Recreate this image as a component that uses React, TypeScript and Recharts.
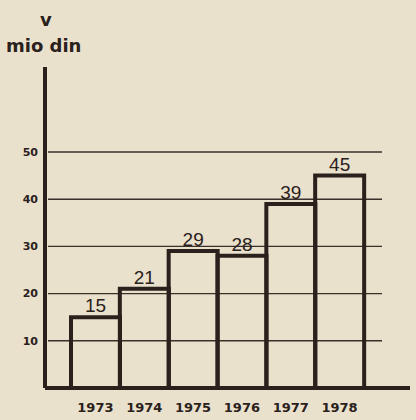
import React from "react";
import {
  BarChart,
  Bar,
  XAxis,
  YAxis,
  CartesianGrid,
  LabelList,
} from "recharts";

const years = ["1973", "1974", "1975", "1976", "1977", "1978"];
const values = [15, 21, 29, 28, 39, 45];
const yTicks = [10, 20, 30, 40, 50];

const data = years.map((year, i) => ({ year, value: values[i] }));

const INK = "#2a201c";
const PAPER = "#e9e1cc";

// grid lines stop short of the baseline's right end, like the print;
// skip the line recharts puts on the plot's top edge
const GridLine = (props: any) => {
  if (props.index === 0 && props.y1 <= 70) return <g key={props.key} />;
  return (
    <line
      key={props.key}
      x1={props.x1 + 3}
      x2={props.x2 - 28}
      y1={props.y1}
      y2={props.y2}
      stroke="#3a2f29"
      strokeWidth={1.4}
    />
  );
};

export default function App() {
  return (
    <div
      style={{
        position: "relative",
        width: 416,
        height: 420,
        background: PAPER,
        fontFamily: "'DejaVu Sans', sans-serif",
        color: INK,
        overflow: "hidden",
      }}
    >
      <style>{"body{margin:0}"}</style>
      <div
        style={{
          position: "absolute",
          left: 40,
          top: 9,
          fontSize: 18,
          fontWeight: "bold",
        }}
      >
        v
      </div>
      <div
        style={{
          position: "absolute",
          left: 6,
          top: 35,
          fontSize: 18,
          fontWeight: "bold",
        }}
      >
        mio din
      </div>
      <BarChart
        width={416}
        height={420}
        data={data}
        barCategoryGap={0}
        margin={{ top: 67, right: 6, left: 0, bottom: 0 }}
      >
        <CartesianGrid vertical={false} horizontal={GridLine} syncWithTicks />
        <XAxis
          dataKey="year"
          height={32}
          padding={{ left: 26, right: 46 }}
          axisLine={{ stroke: INK, strokeWidth: 4 }}
          tickLine={false}
          tickSize={0}
          tickMargin={15}
          tick={{ fill: INK, fontSize: 13, fontWeight: "bold", fontFamily: "DejaVu Sans" }}
        />
        <YAxis
          width={45}
          domain={[0, 68]}
          ticks={yTicks}
          axisLine={{ stroke: INK, strokeWidth: 4 }}
          tickLine={false}
          tickSize={0}
          tickMargin={7}
          tick={{ fill: INK, fontSize: 11, fontWeight: "bold", fontFamily: "DejaVu Sans" }}
        />
        <Bar
          dataKey="value"
          fill="none"
          stroke={INK}
          strokeWidth={4}
          isAnimationActive={false}
        >
          <LabelList
            dataKey="value"
            position="top"
            offset={5}
            fill={INK}
            fontSize={19}
            fontFamily="Liberation Sans"
          />
        </Bar>
      </BarChart>
    </div>
  );
}
